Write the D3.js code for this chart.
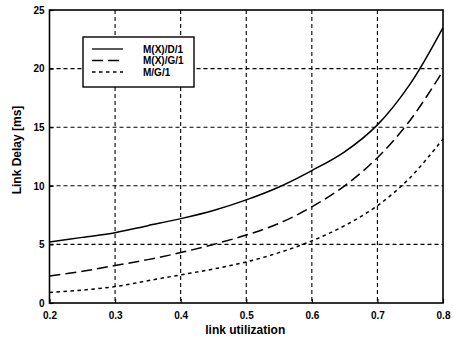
<!DOCTYPE html>
<html>
<head>
<meta charset="utf-8">
<script src="https://cdn.jsdelivr.net/npm/d3@7"></script>
<style>
  body { margin: 0; background: #fff; }
  svg { display: block; font-family: "Liberation Sans", Arial, sans-serif; }
</style>
</head>
<body>
<div id="chart"></div>
<script>
// link utilization
const utilization = [0.2, 0.25, 0.3, 0.35, 0.4, 0.45, 0.5, 0.55, 0.6, 0.65, 0.7, 0.75, 0.8];
// link delay [ms]
const delayMXD1 = [5.2, 5.6, 6.0, 6.6, 7.2, 7.9, 8.8, 9.9, 11.3, 12.9, 15.2, 18.7, 23.5];
const delayMXG1 = [2.3, 2.7, 3.2, 3.7, 4.3, 5.0, 5.8, 6.8, 8.2, 10.0, 12.4, 15.6, 19.8];
const delayMG1 = [0.9, 1.1, 1.4, 1.9, 2.4, 2.9, 3.5, 4.3, 5.3, 6.6, 8.3, 10.7, 14.0];
const seriesNames = ["M(X)/D/1", "M(X)/G/1", "M/G/1"];
const xTicks = [0.2, 0.3, 0.4, 0.5, 0.6, 0.7, 0.8];
const yTicks = [0, 5, 10, 15, 20, 25];

const W = 453, H = 341;
const margin = {left: 49.5, right: 10, top: 10, bottom: 38};
const w = W - margin.left - margin.right;
const h = H - margin.top - margin.bottom;

const svg = d3.select("#chart").append("svg")
  .attr("width", W).attr("height", H);
const g = svg.append("g")
  .attr("transform", "translate(" + margin.left + "," + margin.top + ")");

const x = d3.scaleLinear().domain([0.2, 0.8]).range([0, w]);
const y = d3.scaleLinear().domain([0, 25]).range([h, 0]);

// grid
g.append("g").selectAll("line").data(xTicks.slice(1, -1)).enter().append("line")
  .attr("x1", d => x(d)).attr("x2", d => x(d)).attr("y1", 0).attr("y2", h)
  .attr("stroke", "#000").attr("stroke-width", 1.1).attr("stroke-dasharray", "4,3");
g.append("g").selectAll("line").data(yTicks.slice(1, -1)).enter().append("line")
  .attr("y1", d => y(d)).attr("y2", d => y(d)).attr("x1", 0).attr("x2", w)
  .attr("stroke", "#000").attr("stroke-width", 1.1).attr("stroke-dasharray", "4,3");

// axes
const xAxis = g.append("g").attr("transform", "translate(0," + h + ")")
  .call(d3.axisBottom(x).tickValues(xTicks).tickFormat(d3.format(".1f")).tickSize(-4).tickPadding(9));
const yAxis = g.append("g")
  .call(d3.axisLeft(y).tickValues(yTicks).tickSize(-4).tickPadding(5));
[xAxis, yAxis].forEach(a => {
  a.select(".domain").remove();
  a.selectAll("line").attr("stroke", "#000").attr("stroke-width", 1.2);
  a.selectAll("text").attr("font-size", 10).attr("font-weight", "bold")
    .attr("fill", "#000").attr("font-family", "Liberation Sans Narrow, Liberation Sans, Arial");
});

// frame
g.append("rect").attr("x", 0).attr("y", 0).attr("width", w).attr("height", h)
  .attr("fill", "none").attr("stroke", "#000").attr("stroke-width", 1.6);

// lines
const series = [
  {name: seriesNames[0], values: delayMXD1, dash: null},
  {name: seriesNames[1], values: delayMXG1, dash: "11,5"},
  {name: seriesNames[2], values: delayMG1, dash: "3.5,3.5"}
];
const line = d3.line().x((d, i) => x(utilization[i])).y(d => y(d)).curve(d3.curveCatmullRom);
g.selectAll(".series").data(series).enter().append("path")
  .attr("class", "series")
  .attr("d", d => line(d.values))
  .attr("fill", "none").attr("stroke", "#000").attr("stroke-width", 1.5)
  .attr("stroke-dasharray", d => d.dash);

// legend
const lg = svg.append("g").attr("transform", "translate(83,37)");
lg.append("rect").attr("width", 111).attr("height", 50)
  .attr("fill", "#fff").attr("stroke", "#000").attr("stroke-width", 1.4);
series.forEach((s, i) => {
  const yy = 12 + i * 11.5;
  lg.append("line").attr("x1", 9).attr("x2", 40).attr("y1", yy).attr("y2", yy)
    .attr("stroke", "#000").attr("stroke-width", 1.3).attr("stroke-dasharray", s.dash);
  lg.append("text").attr("x", 60).attr("y", yy + 3.5).text(s.name)
    .attr("font-size", 10).attr("font-weight", "bold")
    .attr("font-family", "Liberation Sans Narrow, Liberation Sans, Arial");
});

// labels
svg.append("text").attr("x", margin.left + w / 2 - 1).attr("y", 334)
  .attr("text-anchor", "middle").attr("font-size", 12).attr("font-weight", "bold")
  .text("link utilization");
svg.append("text").attr("transform", "translate(21,150) rotate(-90)")
  .attr("text-anchor", "middle").attr("font-size", 12).attr("font-weight", "bold")
  .text("Link Delay  [ms]");
</script>
</body>
</html>
